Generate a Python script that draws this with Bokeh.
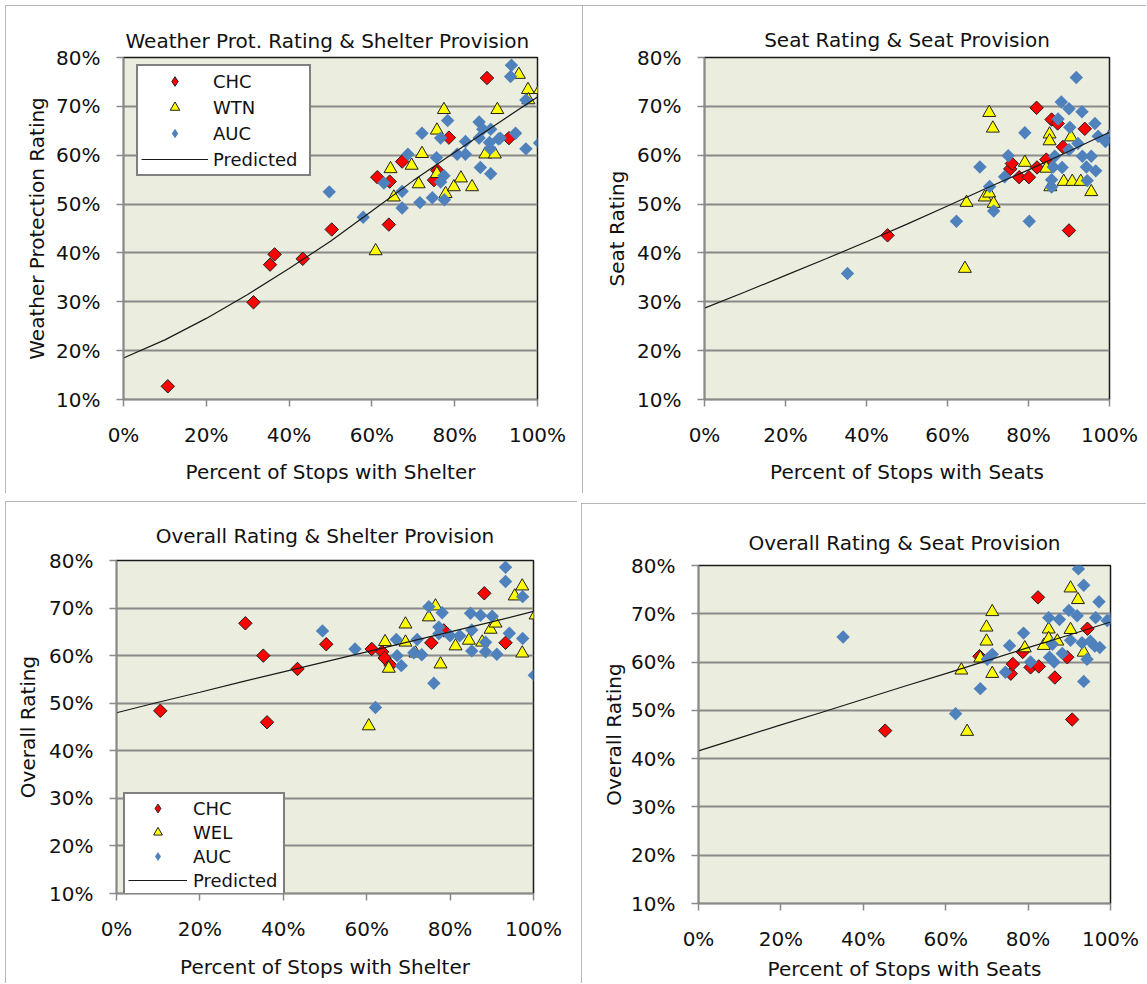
import numpy as np
from bokeh.plotting import figure
from bokeh.layouts import column, row
from bokeh.models import (Range1d, FixedTicker, PrintfTickFormatter, Legend, LegendItem, Spacer)
from bokeh.embed import file_html
from bokeh.resources import INLINE

# ------------------------------------------------------------------ data
x_ticks = [0, 20, 40, 60, 80, 100]
y_ticks = [10, 20, 30, 40, 50, 60, 70, 80]
pred_x = [0, 10, 20, 30, 40, 50, 60, 70, 80, 90, 100]

# Panel 1: Weather protection rating vs % stops with shelter
wp_chc_x = [10.7, 31.4, 35.4, 36.5, 43.3, 50.3, 61.3, 64.3, 64.1, 67.3, 75.0, 75.8, 78.6, 87.8, 93.1]
wp_chc_y = [12.7, 29.9, 37.6, 39.7, 38.8, 44.8, 55.5, 54.6, 45.8, 58.7, 54.9, 56.9, 63.6, 75.8, 63.5]
wp_wtn_x = [60.9, 64.5, 65.3, 69.6, 71.3, 72.1, 75.7, 75.7, 77.4, 77.8, 79.8, 81.5, 84.2, 87.4, 89.7,
            90.3, 95.5, 97.7, 97.8, 100.6]
wp_wtn_y = [40.4, 57.2, 51.4, 57.9, 54.1, 60.3, 65.1, 56.2, 69.3, 52.1, 53.5, 55.3, 53.5, 60.2, 60.2,
            69.3, 76.5, 73.4, 71.3, 73.4]
wp_auc_x = [49.7, 57.9, 62.9, 67.3, 67.3, 68.7, 71.6, 72.1, 74.6, 75.6, 76.6, 76.6, 77.4, 77.5, 78.3,
            80.6, 82.6, 82.6, 85.9, 86.8, 85.9, 86.2, 88.7, 88.4, 88.6, 88.7, 90.6, 91.0, 93.7, 93.5,
            94.7, 97.2, 97.2, 100.5]
wp_auc_y = [52.5, 47.3, 54.3, 49.2, 52.6, 60.2, 50.3, 64.5, 51.3, 59.5, 63.5, 54.5, 55.8, 50.9, 67.1,
            60.2, 62.8, 60.2, 66.8, 65.3, 63.5, 57.5, 65.3, 62.6, 61.3, 56.2, 63.3, 63.5, 78.4, 76.1,
            64.5, 71.3, 61.3, 62.5]
wp_pred_y = [18.5, 22.2, 26.6, 31.5, 36.8, 42.4, 48.6, 54.8, 60.6, 66.3, 71.9]

# Panel 2: Seat rating vs % stops with seats
st_chc_x = [45.2, 75.5, 75.9, 77.7, 80.1, 82.0, 82.1, 84.4, 85.7, 87.2, 88.5, 90.0, 93.9]
st_chc_y = [43.6, 57.2, 58.3, 55.5, 55.5, 69.7, 57.5, 59.1, 67.3, 66.5, 61.7, 44.6, 65.4]
st_wtn_x = [64.3, 64.7, 69.2, 70.3, 70.3, 71.2, 71.4, 79.1, 84.4, 85.2, 85.2, 85.4, 88.7, 90.5, 90.8,
            92.9, 95.5, 100.5]
st_wtn_y = [36.8, 50.3, 51.4, 68.7, 52.2, 65.5, 50.1, 58.5, 57.3, 64.3, 62.9, 53.5, 54.6, 63.7, 54.6,
            54.6, 52.5, 64.5]
st_auc_x = [35.3, 62.2, 68.0, 70.4, 71.4, 74.1, 75.0, 79.1, 80.2, 85.7, 85.7, 86.1, 86.5, 87.3, 88.1,
            88.3, 90.0, 90.0, 90.2, 91.8, 92.2, 93.2, 93.3, 94.3, 94.5, 95.5, 96.4, 96.6, 97.2, 99.0,
            100.1]
st_auc_y = [35.8, 46.5, 57.6, 53.6, 48.6, 55.6, 59.9, 64.6, 46.5, 55.0, 53.5, 57.6, 59.8, 67.4, 70.9,
            57.5, 69.5, 61.1, 65.7, 75.9, 62.4, 68.9, 59.8, 57.6, 54.8, 59.8, 66.5, 56.8, 63.9, 62.8,
            63.9]
st_pred_y = [28.7, 32.0, 35.4, 38.8, 42.3, 45.9, 49.6, 53.4, 57.0, 60.8, 64.7]

# Panel 3: Overall rating vs % stops with shelter
os_chc_x = [10.5, 30.9, 35.2, 36.1, 43.4, 50.3, 61.2, 63.7, 64.3, 65.7, 75.5, 78.5, 88.2, 93.3]
os_chc_y = [48.4, 66.8, 60.0, 46.0, 57.2, 62.4, 61.4, 60.8, 59.5, 58.0, 62.7, 65.3, 73.1, 62.7]
os_wel_x = [60.5, 64.4, 65.3, 69.3, 69.3, 71.7, 74.9, 76.5, 77.7, 81.3, 84.5, 87.7, 89.7, 90.9, 95.5,
            97.3, 97.3, 100.5]
os_wel_y = [45.2, 62.9, 57.3, 66.6, 62.8, 60.5, 68.1, 70.4, 58.2, 62.0, 63.2, 62.8, 65.5, 66.8, 72.5,
            74.6, 60.5, 68.5]
os_auc_x = [49.4, 57.2, 62.1, 67.1, 67.3, 68.3, 71.3, 72.1, 73.2, 74.9, 76.1, 77.3, 77.3, 78.1, 80.0,
            82.3, 84.9, 85.2, 85.2, 87.3, 88.5, 88.5, 90.1, 91.2, 93.3, 93.3, 94.2, 97.4, 97.4, 100.2]
os_auc_y = [65.2, 61.4, 49.1, 63.4, 60.0, 57.9, 60.6, 63.4, 60.2, 70.3, 54.2, 66.0, 64.6, 69.0, 64.2,
            64.2, 68.9, 65.4, 61.0, 68.5, 62.8, 60.8, 68.3, 60.3, 78.6, 75.6, 64.7, 72.4, 63.6, 55.9]
os_pred_y = [48.0, 50.2, 52.3, 54.5, 56.6, 58.7, 60.8, 62.9, 65.0, 67.1, 69.3]

# Panel 4: Overall rating vs % stops with seats
oe_chc_x = [45.3, 68.2, 75.8, 76.3, 78.7, 80.6, 82.4, 82.6, 86.5, 89.5, 90.7, 94.4]
oe_chc_y = [45.8, 61.2, 57.6, 59.6, 62.1, 58.9, 73.4, 59.1, 56.8, 61.0, 48.1, 66.9]
oe_wel_x = [63.8, 65.2, 68.4, 69.9, 69.9, 71.3, 71.3, 79.2, 83.8, 85.0, 85.0, 87.1, 90.3, 90.3, 92.1, 93.5]
oe_wel_y = [58.3, 45.6, 60.8, 67.2, 64.3, 70.4, 57.6, 62.9, 63.4, 66.8, 64.8, 64.3, 75.3, 66.7, 72.9, 62.0]
oe_auc_x = [35.1, 62.4, 68.4, 70.1, 71.3, 74.5, 75.5, 78.9, 80.6, 85.0, 85.2, 85.9, 86.3, 87.6, 88.3,
            89.9, 90.3, 91.9, 92.2, 93.1, 93.5, 93.5, 94.3, 95.1, 96.2, 96.4, 97.2, 97.4, 99.2, 100.4]
oe_auc_y = [65.2, 49.3, 54.5, 60.6, 61.6, 57.9, 63.4, 66.0, 60.0, 69.2, 61.0, 63.7, 60.0, 68.8, 61.8,
            70.7, 64.5, 69.6, 79.3, 64.0, 75.9, 56.0, 60.6, 64.3, 63.3, 69.2, 72.5, 63.0, 68.6, 69.0]
oe_pred_y = [41.6, 44.3, 47.0, 49.6, 52.3, 55.0, 57.6, 60.3, 63.0, 65.6, 68.3]

# ------------------------------------------------------------------ styles
FONT = "DejaVu Sans"
BG = "#EBEEDF"
GRID = "#8A8A8A"
RED = "#FF0000"
YEL = "#FFFF00"
BLUE = "#4F81BD"
EDGE = "#202020"
TXT = "#111111"


def make_panel(title, xlabel, ylabel, width, height, borders, series, pred_y,
               legend_cfg=None, title_standoff=10, xlabel_standoff=10, ylabel_standoff=4):
    L, R, T, B = borders
    p = figure(width=width, height=height, x_range=Range1d(0, 100), y_range=Range1d(10, 80),
               output_backend="svg", toolbar_location=None, tools="",
               min_border_left=L, min_border_right=R, min_border_top=T, min_border_bottom=B,
               background_fill_color=BG, border_fill_color="white", title=title,
               styles={"outline": "2px solid #9e9e9e", "outline-offset": "-2px"})
    p.title.text_font = FONT
    p.title.text_font_size = "20px"
    p.title.text_font_style = "normal"
    p.title.text_color = TXT
    p.title.align = "center"
    p.title.standoff = title_standoff

    p.outline_line_color = "#1a1a1a"
    p.outline_line_width = 1.5

    p.xaxis.ticker = FixedTicker(ticks=x_ticks)
    p.yaxis.ticker = FixedTicker(ticks=y_ticks)
    for ax in (p.xaxis[0], p.yaxis[0]):
        ax.formatter = PrintfTickFormatter(format="%d%%")
        ax.axis_line_color = GRID
        ax.axis_line_width = 1.5
        ax.major_tick_line_color = GRID
        ax.major_tick_line_width = 1.5
        ax.major_tick_out = 7
        ax.major_tick_in = 0
        ax.minor_tick_line_color = None
        ax.major_label_text_font = FONT
        ax.major_label_text_font_size = "20px"
        ax.major_label_text_color = TXT
        ax.axis_label_text_font = FONT
        ax.axis_label_text_font_size = "20px"
        ax.axis_label_text_font_style = "normal"
        ax.axis_label_text_color = TXT
    p.xaxis.axis_label = xlabel
    p.yaxis.axis_label = ylabel
    p.xaxis.major_label_standoff = 16
    p.yaxis.major_label_standoff = 16
    p.xaxis.axis_label_standoff = xlabel_standoff
    p.yaxis.axis_label_standoff = ylabel_standoff

    p.xgrid.visible = False
    p.ygrid.grid_line_color = GRID
    p.ygrid.grid_line_width = 2

    (cx, cy, cname), (wx, wy, wname), (ax_, ay, aname) = series
    p.scatter(cx, cy, marker="square", angle=np.pi / 4, size=9.5,
              fill_color=RED, line_color=EDGE, line_width=1)
    r_wtn = p.scatter(wx, wy, marker="triangle", size=13,
                      fill_color=YEL, line_color=EDGE, line_width=1)
    p.scatter(ax_, ay, marker="square", angle=np.pi / 4, size=9.5,
              fill_color=BLUE, line_color=None)
    r_pred = p.line(pred_x, pred_y, line_color="#1a1a1a", line_width=1.2)

    if legend_cfg is not None:
        # key-only glyphs (NaN position, never drawn in the plot) so the key shows diamonds
        k_chc = p.scatter([np.nan], [np.nan], marker="diamond", fill_color=RED,
                          line_color=EDGE, line_width=1)
        k_auc = p.scatter([np.nan], [np.nan], marker="diamond", fill_color=BLUE, line_color=None)
        lg = Legend(items=[LegendItem(label=cname, renderers=[k_chc]),
                           LegendItem(label=wname, renderers=[r_wtn]),
                           LegendItem(label=aname, renderers=[k_auc]),
                           LegendItem(label="Predicted", renderers=[r_pred])],
                    location=legend_cfg["location"],
                    orientation="vertical",
                    border_line_color="black", border_line_width=2,
                    background_fill_color="white", background_fill_alpha=1.0,
                    padding=3, spacing=2, margin=0,
                    glyph_width=legend_cfg["glyph_width"], glyph_height=legend_cfg["glyph_height"],
                    label_height=18, label_standoff=legend_cfg["standoff"],
                    label_width=legend_cfg["label_width"],
                    label_text_font=FONT, label_text_font_size="18px",
                    label_text_color=TXT)
        p.add_layout(lg)
    return p


p1 = make_panel("Weather Prot. Rating & Shelter  Provision", "Percent of Stops with Shelter",
                "Weather Protection Rating", 577, 488, (118, 45, 52, 94),
                [(wp_chc_x, wp_chc_y, "CHC"), (wp_wtn_x, wp_wtn_y, "WTN"), (wp_auc_x, wp_auc_y, "AUC")],
                wp_pred_y,
                legend_cfg=dict(location=(13, 223), glyph_width=67, glyph_height=24, standoff=5,
                                label_width=93),
                title_standoff=9, xlabel_standoff=10, ylabel_standoff=4)

p2 = make_panel("Seat Rating & Seat Provision", "Percent of Stops with Seats",
                "Seat Rating", 564, 488, (122, 37, 52, 94),
                [(st_chc_x, st_chc_y, "CHC"), (st_wtn_x, st_wtn_y, "WTN"), (st_auc_x, st_auc_y, "AUC")],
                st_pred_y, title_standoff=11, xlabel_standoff=10, ylabel_standoff=5)

p3 = make_panel("Overall Rating & Shelter Provision", "Percent of Stops with Shelter",
                "Overall Rating", 572, 482, (111, 44, 59, 90),
                [(os_chc_x, os_chc_y, "CHC"), (os_wel_x, os_wel_y, "WEL"), (os_auc_x, os_auc_y, "AUC")],
                os_pred_y,
                legend_cfg=dict(location=(7, -3), glyph_width=59, glyph_height=22, standoff=6,
                                label_width=87),
                title_standoff=26, xlabel_standoff=11, ylabel_standoff=6)

p4 = make_panel("Overall Rating & Seat Provision", "Percent of Stops with Seats",
                "Overall Rating", 565, 480, (117, 36, 62, 80),
                [(oe_chc_x, oe_chc_y, "CHC"), (oe_wel_x, oe_wel_y, "WEL"), (oe_auc_x, oe_auc_y, "AUC")],
                oe_pred_y, title_standoff=22, xlabel_standoff=3, ylabel_standoff=2)

layout = column(Spacer(height=5),
                row(Spacer(width=5), p1, p2),
                Spacer(height=8),
                row(Spacer(width=5), column(p3), Spacer(width=4),
                    column(Spacer(height=2), p4)))

open("out.html", "w").write(file_html(layout, INLINE))
